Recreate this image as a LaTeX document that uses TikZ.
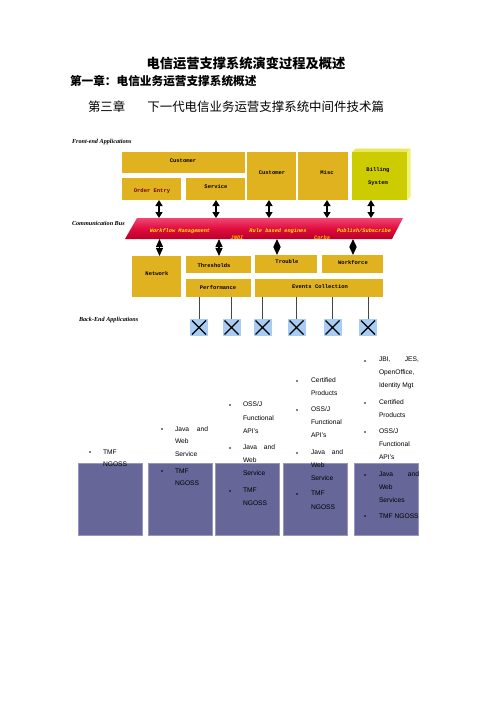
\documentclass[tikz,border=0pt]{standalone}
\usepackage{fontspec}
\setmainfont{Liberation Sans}
\newfontfamily\cjk{Noto Sans CJK SC}
\newfontfamily\monof{Liberation Mono}
\newfontfamily\seriff{Liberation Serif}
\usetikzlibrary{arrows.meta,calc}
\definecolor{gold}{RGB}{224,178,32}
\definecolor{billf}{RGB}{204,204,0}
\definecolor{billt}{RGB}{232,232,90}
\definecolor{billr}{RGB}{242,242,120}
\definecolor{slate}{RGB}{102,102,153}
\definecolor{slateb}{RGB}{150,150,190}
\definecolor{xblue}{RGB}{168,204,242}
\definecolor{bustop}{RGB}{240,70,115}
\definecolor{busmid}{RGB}{225,12,62}
\definecolor{busbot}{RGB}{185,0,40}
\definecolor{busy}{RGB}{255,240,0}
\definecolor{buso}{RGB}{255,185,0}
\definecolor{dred}{RGB}{120,0,0}
\tikzset{
  every node/.style={inner sep=0pt, outer sep=0pt},
  gbox/.style={rectangle, fill=gold, draw=none},
  blbl/.style={font=\monof\bfseries\fontsize{5.5}{6.5}\selectfont, text=black},
  bustxt/.style={font=\monof\bfseries\itshape\fontsize{5.3}{6}\selectfont, text=busy},
  busoth/.style={font=\monof\bfseries\itshape\fontsize{5.3}{6}\selectfont, text=buso},
  ilbl/.style={font=\seriff\bfseries\itshape\fontsize{6.2}{7}\selectfont, anchor=west},
  dblup/.style={line width=1.3bp, {Triangle[length=6bp,width=7bp]}-{Triangle[length=6bp,width=7bp]}},
  dbldn/.style={line width=1.3bp, {Triangle[length=8bp,width=7bp]}-{Triangle[length=8bp,width=7bp]}},
  xbox/.style={rectangle, fill=xblue, minimum width=18bp, minimum height=17bp,
    path picture={\draw[line width=1.1bp,black]
      ([xshift=2bp,yshift=1.5bp]path picture bounding box.south west) -- ([xshift=-2bp,yshift=-1.5bp]path picture bounding box.north east)
      ([xshift=2bp,yshift=-1.5bp]path picture bounding box.north west) -- ([xshift=-2bp,yshift=1.5bp]path picture bounding box.south east);}},
  vline/.style={line width=1bp, draw={rgb,255:red,70;green,70;blue,70}},
  colbox/.style={rectangle, fill=slate, draw=slateb, line width=0.6bp},
  btxt/.style={font=\fontsize{6.7}{8}\selectfont, anchor=west},
  btxte/.style={font=\fontsize{6.7}{8}\selectfont, anchor=east},
  bdot/.style={circle, fill=black, minimum size=1.8bp}
}
\newcommand\bt[4]{\node[btxt] (#1) at (#2,#3) {#4};}
\newcommand\be[4]{\node[btxte] (#1) at (#2,#3) {#4};}
\newcommand\bd[3]{\node[bdot] (#1) at (#2,#3) {};}
\begin{document}
\begin{tikzpicture}[x=1bp,y=-1bp]
\useasboundingbox[fill=white] (0,0) rectangle (496,702);
% titles
\node (t1) at (246,63) {\cjk\bfseries\fontsize{13.3}{14}\selectfont 电信运营支撑系统演变过程及概述};
\node[anchor=west] (t2) at (70,81) {\cjk\bfseries\fontsize{11.7}{13}\selectfont 第一章：电信业务运营支撑系统概述};
\node[anchor=west] (t3) at (88,107) {\cjk\fontsize{12.5}{14}\selectfont 第三章\hspace{22bp}下一代电信业务运营支撑系统中间件技术篇};
% side labels
\node[ilbl] (lfe) at (72,142) {Front-end Applications};
\node[ilbl] (lcb) at (72,223) {Communication Bus};
\node[ilbl] (lbe) at (79,320) {Back-End Applications};
% front-end boxes
\node[gbox, minimum width=123bp, minimum height=21bp] (cust) at (183.5,162.5) {};
\node[gbox, minimum width=59bp, minimum height=22bp] (ordr) at (151.5,189) {};
\node[gbox, minimum width=59bp, minimum height=22bp] (serv) at (215.5,189) {};
\node[gbox, minimum width=49bp, minimum height=48bp] (custb) at (271.5,176) {};
\node[gbox, minimum width=50bp, minimum height=48bp] (misc) at (323,176) {};
% billing 3D box
\fill[billt] (352,152) -- (356,148.5) -- (410.5,148.5) -- (407,152) -- cycle;
\fill[billr] (407,152) -- (410.5,148.5) -- (410.5,196.5) -- (407,200) -- cycle;
\node[rectangle, fill=billf, minimum width=55bp, minimum height=48bp] (bill) at (379.5,176) {};
\node[blbl] (lcust) at (183,161) {Customer};
\node[blbl, text=dred] (lordr) at (152,191) {Order Entry};
\node[blbl] (lserv) at (216,187) {Service};
\node[blbl] (lcustb) at (272,173) {Customer};
\node[blbl] (lmisc) at (327,173) {Misc};
\node[blbl] (lbill1) at (378,170) {Billing};
\node[blbl] (lbill2) at (378,183) {System};
% bus
\shade[top color=bustop, bottom color=busbot, middle color=busmid]
  (137,218) -- (403,218) -- (392,239) -- (125,239) -- cycle;
\coordinate (bustopc) at (0,218);
\coordinate (busbotc) at (0,239);
\node[bustxt] (bw) at (180,231) {Workflow Management};
\node[bustxt] (br) at (278,231) {Rule based engines};
\node[bustxt] (bp) at (364,231) {Publish/Subscribe};
\node[busoth] (bj) at (237,237.5) {JNDI};
\node[busoth] (bc) at (322,238) {Corba};
% top arrows
\draw[dblup] ([xshift=7.5bp]ordr.south) -- ([xshift=7.5bp]ordr.south |- bustopc);
\draw[dblup] ([xshift=0.5bp]serv.south) -- ([xshift=0.5bp]serv.south |- bustopc);
\draw[dblup] ([xshift=-2.5bp]custb.south) -- ([xshift=-2.5bp]custb.south |- bustopc);
\draw[dblup] ([xshift=4bp]misc.south) -- ([xshift=4bp]misc.south |- bustopc);
\draw[dblup] ([xshift=-8.5bp]bill.south) -- ([xshift=-8.5bp]bill.south |- bustopc);
% back-end boxes
\node[gbox, minimum width=49bp, minimum height=41bp] (net) at (156.5,276.5) {};
\node[gbox, minimum width=65bp, minimum height=17bp] (thr) at (218.5,264.5) {};
\node[gbox, minimum width=65bp, minimum height=18bp] (perf) at (218.5,288) {};
\node[gbox, minimum width=62bp, minimum height=18bp] (trob) at (286,264) {};
\node[gbox, minimum width=61bp, minimum height=18bp] (work) at (352.5,264) {};
\node[gbox, minimum width=128bp, minimum height=18bp] (evts) at (319,288) {};
\node[blbl] (lnet) at (157,274) {Network};
\node[blbl] (lthr) at (214,266) {Thresholds};
\node[blbl] (lperf) at (218,287) {Performance};
\node[blbl] (ltrob) at (287,262) {Trouble};
\node[blbl] (lwork) at (353,262) {Workforce};
\node[blbl] (levts) at (320,287) {Events Collection};
% lower arrows
\draw[dbldn] ([xshift=3bp]net.north |- busbotc) -- ([xshift=3bp]net.north);
\draw[dbldn] ([xshift=0.5bp]thr.north |- busbotc) -- ([xshift=0.5bp]thr.north);
\draw[dbldn] ([xshift=-9bp]trob.north |- busbotc) -- ([xshift=-9bp]trob.north);
\draw[dbldn] ([xshift=0.5bp]work.north |- busbotc) -- ([xshift=0.5bp]work.north);
% X boxes
\node[xbox] (x1) at (199,327.5) {};
\node[xbox] (x2) at (231.5,327.5) {};
\node[xbox] (x3) at (262.5,327.5) {};
\node[xbox] (x4) at (296.5,327.5) {};
\node[xbox] (x5) at (332.5,327.5) {};
\node[xbox] (x6) at (368,327.5) {};
\draw[vline] (perf.south -| x1) -- (x1.north);
\draw[vline] (perf.south -| x2) -- (x2.north);
\draw[vline] (evts.south -| x3) -- (x3.north);
\draw[vline] (evts.south -| x4) -- (x4.north);
\draw[vline] (evts.south -| x5) -- (x5.north);
\draw[vline] (evts.south -| x6) -- (x6.north);
% bottom columns
\node[colbox, minimum width=64bp, minimum height=72bp] (c1) at (110,499) {};
\node[colbox, minimum width=64bp, minimum height=72bp] (c2) at (180,499) {};
\node[colbox, minimum width=64bp, minimum height=72bp] (c3) at (247,499) {};
\node[colbox, minimum width=64bp, minimum height=72bp] (c4) at (315,499) {};
\node[colbox, minimum width=64bp, minimum height=72bp] (c5) at (386,499) {};
% column 1
\bd{d1a}{90}{452} \bt{t1a}{103}{452}{TMF} \bt{t1b}{103}{464}{NGOSS}
% column 2
\bd{d2a}{162}{429} \bt{t2a}{175}{429}{Java} \be{t2b}{208}{429}{and}
\bt{t2c}{175}{441}{Web} \bt{t2d}{175}{454}{Service}
\bd{d2b}{162}{471} \bt{t2e}{175}{471}{TMF} \bt{t2f}{175}{483}{NGOSS}
% column 3
\bd{d3a}{230}{405} \bt{t3a}{243}{404}{OSS/J} \bt{t3b}{243}{418}{Functional} \bt{t3c}{243}{431}{API's}
\bd{d3b}{230}{448} \bt{t3d}{243}{447}{Java} \be{t3e}{275}{447}{and}
\bt{t3f}{243}{460}{Web} \bt{t3g}{243}{473}{Service}
\bd{d3c}{230}{491} \bt{t3h}{243}{490}{TMF} \bt{t3i}{243}{503}{NGOSS}
% column 4
\bd{d4a}{297}{381} \bt{t4a}{311}{380}{Certified} \bt{t4b}{311}{393}{Products}
\bd{d4b}{297}{410} \bt{t4c}{311}{409}{OSS/J} \bt{t4d}{311}{422}{Functional} \bt{t4e}{311}{435}{API's}
\bd{d4c}{297}{453} \bt{t4f}{311}{452}{Java} \be{t4g}{343}{452}{and}
\bt{t4h}{311}{465}{Web} \bt{t4i}{311}{478}{Service}
\bd{d4d}{297}{494} \bt{t4j}{311}{493}{TMF} \bt{t4k}{311}{507}{NGOSS}
% column 5
\bd{d5a}{365}{361} \bt{t5a}{379}{360}{JBI,} \be{t5b}{419}{360}{JES,}
\bt{t5c}{379}{373}{OpenOffice,} \bt{t5d}{379}{386}{Identity Mgt}
\bd{d5b}{365}{403} \bt{t5e}{379}{402}{Certified} \bt{t5f}{379}{415}{Products}
\bd{d5c}{365}{432} \bt{t5g}{379}{431}{OSS/J} \bt{t5h}{379}{444}{Functional} \bt{t5i}{379}{457}{API's}
\bd{d5d}{365}{475} \bt{t5j}{379}{474}{Java} \be{t5k}{419}{474}{and}
\bt{t5l}{379}{487}{Web} \bt{t5m}{379}{500}{Services}
\bd{d5e}{365}{516} \bt{t5n}{379}{516}{TMF NGOSS}
\end{tikzpicture}
\end{document}
